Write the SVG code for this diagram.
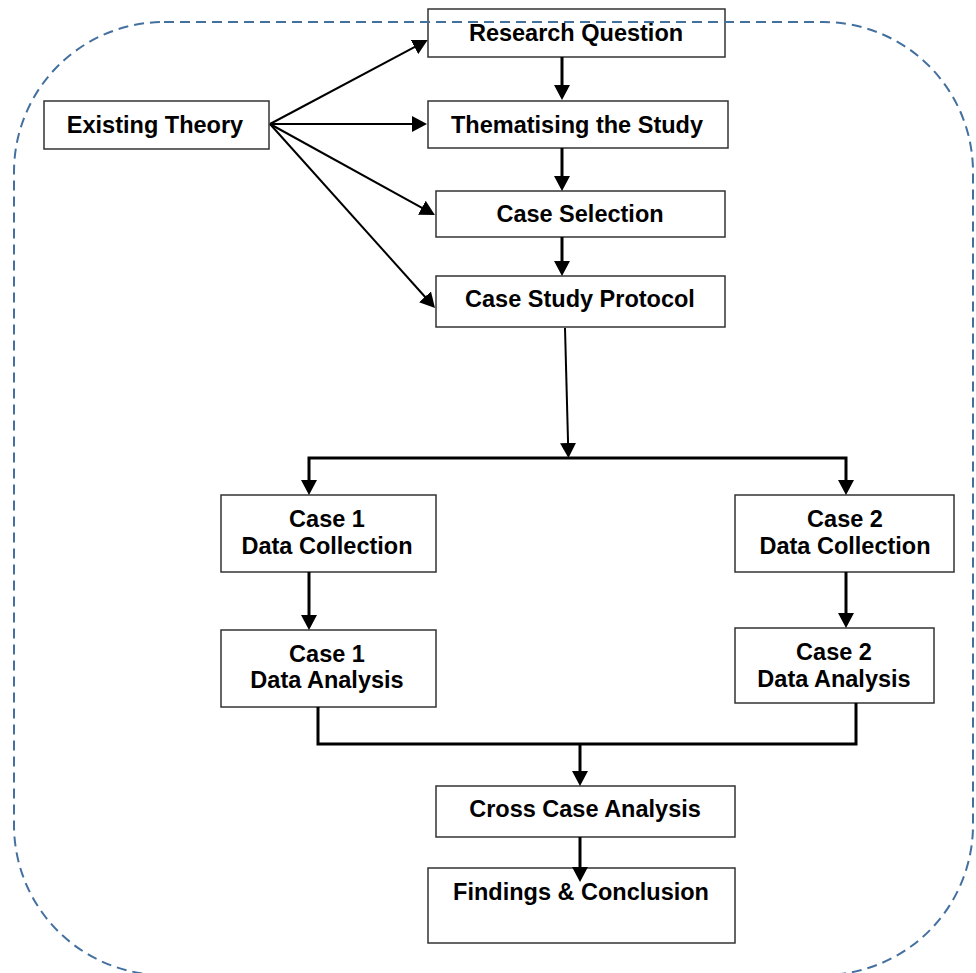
<svg xmlns="http://www.w3.org/2000/svg" width="976" height="973" viewBox="0 0 976 973">
  <style>
    .box { fill: #ffffff; stroke: #333333; stroke-width: 1.5; }
    .lbl { font-family: "Liberation Sans", Arial, sans-serif; font-weight: bold; font-size: 23.5px; fill: #000000; text-anchor: middle; }
    .thin { fill: none; stroke: #000000; stroke-width: 2; }
    .thick { fill: none; stroke: #000000; stroke-width: 3; }
    .frame { fill: none; stroke: #44709f; stroke-width: 2; stroke-dasharray: 10 6; }
  </style>
  <defs>
    <marker id="arrow" viewBox="0 0 15 16" refX="9" refY="8" markerWidth="15" markerHeight="16" markerUnits="userSpaceOnUse" orient="auto">
      <path d="M0,0 L15,8 L0,16 z" fill="#000000"/>
    </marker>
  </defs>

  <rect width="976" height="973" fill="#ffffff"/>

  <!-- nodes -->
  <g id="existing-theory">
    <rect class="box" x="44" y="101" width="225" height="48"/>
    <text class="lbl" x="155" y="133" font-size="24">Existing Theory</text>
  </g>
  <g id="research-question">
    <rect class="box" x="428" y="9" width="297" height="48"/>
    <text class="lbl" x="576" y="41" font-size="24">Research Question</text>
  </g>
  <g id="thematising">
    <rect class="box" x="428" y="101" width="300" height="47"/>
    <text class="lbl" x="577" y="133" font-size="24">Thematising the Study</text>
  </g>
  <g id="case-selection">
    <rect class="box" x="436" y="191" width="289" height="46"/>
    <text class="lbl" x="580" y="222" font-size="24">Case Selection</text>
  </g>
  <g id="case-study-protocol">
    <rect class="box" x="436" y="276" width="289" height="51"/>
    <text class="lbl" x="580" y="307" font-size="24">Case Study Protocol</text>
  </g>
  <g id="case1-collection">
    <rect class="box" x="221" y="495" width="215" height="77"/>
    <text class="lbl" x="327" y="527">Case 1</text>
    <text class="lbl" x="327" y="554">Data Collection</text>
  </g>
  <g id="case2-collection">
    <rect class="box" x="735" y="495" width="219" height="77"/>
    <text class="lbl" x="845" y="527">Case 2</text>
    <text class="lbl" x="845" y="554">Data Collection</text>
  </g>
  <g id="case1-analysis">
    <rect class="box" x="221" y="630" width="215" height="77"/>
    <text class="lbl" x="327" y="662">Case 1</text>
    <text class="lbl" x="327" y="688">Data Analysis</text>
  </g>
  <g id="case2-analysis">
    <rect class="box" x="735" y="628" width="199" height="75"/>
    <text class="lbl" x="834" y="660">Case 2</text>
    <text class="lbl" x="834" y="687">Data Analysis</text>
  </g>
  <g id="cross-case-analysis">
    <rect class="box" x="436" y="786" width="299" height="51"/>
    <text class="lbl" x="585" y="817">Cross Case Analysis</text>
  </g>
  <g id="findings-conclusion">
    <rect class="box" x="428" y="868" width="307" height="75"/>
    <text class="lbl" x="581" y="900">Findings &amp; Conclusion</text>
  </g>

  <!-- connectors -->
  <g id="connectors">
    <line class="thin" x1="270" y1="124" x2="422.4" y2="42.8" marker-end="url(#arrow)"/>
    <line class="thin" x1="270" y1="124" x2="421" y2="124" marker-end="url(#arrow)"/>
    <line class="thin" x1="270" y1="124" x2="429.7" y2="212.1" marker-end="url(#arrow)"/>
    <line class="thin" x1="270" y1="124" x2="431" y2="303.5" marker-end="url(#arrow)"/>

    <line class="thick" x1="562" y1="57" x2="562" y2="94" marker-end="url(#arrow)"/>
    <line class="thick" x1="562" y1="148" x2="562" y2="185" marker-end="url(#arrow)"/>
    <line class="thick" x1="562" y1="237" x2="562" y2="270" marker-end="url(#arrow)"/>

    <line class="thin" x1="565" y1="328" x2="568.3" y2="452" marker-end="url(#arrow)"/>
    <polyline class="thick" points="309,489 309,458 846,458 846,489"/>
    <line class="thick" x1="309" y1="480" x2="309" y2="489" marker-end="url(#arrow)"/>
    <line class="thick" x1="846" y1="480" x2="846" y2="489" marker-end="url(#arrow)"/>

    <line class="thick" x1="309" y1="572" x2="309" y2="624" marker-end="url(#arrow)"/>
    <line class="thick" x1="846" y1="572" x2="846" y2="622" marker-end="url(#arrow)"/>

    <polyline class="thick" points="318,707 318,744 856,744 856,703"/>
    <line class="thick" x1="580" y1="744" x2="580" y2="780" marker-end="url(#arrow)"/>
    <line class="thick" x1="580" y1="837" x2="580" y2="876" marker-end="url(#arrow)"/>
  </g>

  <!-- dashed enclosing boundary -->
  <rect id="boundary" class="frame" x="14" y="22" width="959" height="953" rx="150" ry="150"/>
</svg>
